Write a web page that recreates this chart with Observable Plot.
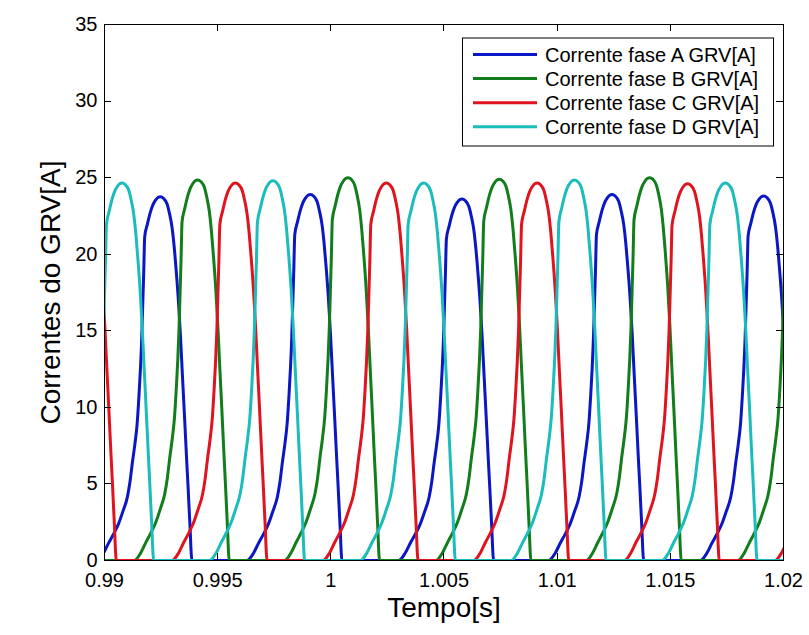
<!DOCTYPE html>
<html><head><meta charset="utf-8">
<script src="https://cdn.jsdelivr.net/npm/d3@7"></script>
<script src="https://cdn.jsdelivr.net/npm/@observablehq/plot@0.6"></script>
<style>
html,body{margin:0;padding:0;background:#fff;}
#chart{width:809px;height:635px;}
</style></head><body><div id="chart"></div>
<script>
// ---- data ----
const seriesNames = ["Corrente fase A GRV[A]", "Corrente fase B GRV[A]", "Corrente fase C GRV[A]", "Corrente fase D GRV[A]"];
const seriesColors = ["#0b16c4", "#127d1c", "#e0141e", "#1bbcbc"];

// shape of one current pulse: offset from its peak (ms) and current as a fraction of that peak
const pulseOffsetMs = [-2.805, -2.518, -2.297, -2.076, -1.856, -1.657, -1.458, -1.347, -1.237, -1.127, -1.029, -0.950, -0.884, -0.826, -0.782, -0.738, -0.694, -0.574, -0.442, -0.331, -0.221, -0.110, 0, 0.133, 0.296, 0.398, 0.517, 0.605, 0.694, 0.795, 0.884, 0.972, 1.074, 1.149, 1.224, 1.303, 1.392];
const pulseFraction = [0, 0.02, 0.047, 0.072, 0.10, 0.135, 0.175, 0.215, 0.27, 0.32, 0.375, 0.45, 0.525, 0.61, 0.70, 0.79, 0.89, 0.925, 0.958, 0.978, 0.99, 0.998, 1, 0.996, 0.98, 0.955, 0.915, 0.865, 0.80, 0.715, 0.62, 0.51, 0.385, 0.29, 0.20, 0.10, 0];

// peak time (s) and peak current (A) of each pulse, per phase
const peakTimesA = [0.99247, 0.99910, 1.00580, 1.01243, 1.01913];
const peakCurrentA = [23.75, 23.9, 23.6, 23.9, 23.8];
const peakTimesB = [0.99412, 1.00076, 1.00745, 1.01409, 1.02079];
const peakCurrentB = [24.85, 25.0, 24.9, 25.0, 24.9];
const peakTimesC = [0.98913, 0.99579, 1.00246, 1.00912, 1.01577, 1.02243];
const peakCurrentC = [24.7, 24.65, 24.65, 24.65, 24.6, 24.65];
const peakTimesD = [0.99078, 0.99745, 1.00411, 1.01077, 1.01744];
const peakCurrentD = [24.65, 24.8, 24.65, 24.85, 24.65];

const xDomain = [0.99, 1.02];
const yDomain = [0, 35];
const xTicks = [0.99, 0.995, 1, 1.005, 1.01, 1.015, 1.02];
const yTicks = [0, 5, 10, 15, 20, 25, 30, 35];

// ---- build table ----
function buildSeries(name, times, peaks) {
  const pts = [];
  times.forEach((tp, k) => {
    pulseOffsetMs.forEach((o, j) => pts.push({serie: name, t: tp + o / 1000, i: pulseFraction[j] * peaks[k]}));
  });
  if (pts[0].t > xDomain[0]) pts.unshift({serie: name, t: xDomain[0] - 0.001, i: 0});
  if (pts[pts.length - 1].t < xDomain[1]) pts.push({serie: name, t: xDomain[1] + 0.001, i: 0});
  return pts;
}
const seriesData = [
  buildSeries(seriesNames[0], peakTimesA, peakCurrentA),
  buildSeries(seriesNames[1], peakTimesB, peakCurrentB),
  buildSeries(seriesNames[2], peakTimesC, peakCurrentC),
  buildSeries(seriesNames[3], peakTimesD, peakCurrentD)
];

const FONT = "'Liberation Sans', Arial, Helvetica, sans-serif";
const LW = 3;

function boxTicks(index, scales, values, dims) {
  const x = scales.x, y = scales.y;
  const L = dims.marginLeft, R = dims.width - dims.marginRight, T = dims.marginTop, B = dims.height - dims.marginBottom;
  const k = 7;
  const g = d3.create("svg:g").attr("stroke", "black").attr("stroke-width", 1).attr("fill", "none");
  for (const t of xTicks) {
    const px = Math.round(x(t)) + 0.5;
    g.append("line").attr("x1", px).attr("x2", px).attr("y1", B).attr("y2", B - k);
    g.append("line").attr("x1", px).attr("x2", px).attr("y1", T).attr("y2", T + k);
  }
  for (const v of yTicks) {
    const py = Math.round(y(v)) + 0.5;
    g.append("line").attr("x1", L).attr("x2", L + k).attr("y1", py).attr("y2", py);
    g.append("line").attr("x1", R).attr("x2", R - k).attr("y1", py).attr("y2", py);
  }
  g.append("rect").attr("x", L + 0.5).attr("y", T + 0.5).attr("width", R - L).attr("height", B - T);
  return g.node();
}

function legendBox(index, scales, values, dims) {
  const R = dims.width - dims.marginRight, T = dims.marginTop;
  const w = 311, h = 108;
  const x0 = R - 10 - w, y0 = T + 13.5;
  const g = d3.create("svg:g");
  g.append("rect").attr("x", x0 + 0.5).attr("y", y0 + 0.5).attr("width", w).attr("height", h)
    .attr("fill", "white").attr("stroke", "black").attr("stroke-width", 1);
  seriesNames.forEach((n, i) => {
    const yy = y0 + 17 + i * 24.1;
    g.append("line").attr("x1", x0 + 11).attr("x2", x0 + 75).attr("y1", yy).attr("y2", yy)
      .attr("stroke", seriesColors[i]).attr("stroke-width", LW);
    g.append("text").attr("x", x0 + 83).attr("y", yy).attr("dy", "0.36em")
      .attr("text-anchor", "start")
      .attr("font-size", 20).attr("font-family", FONT).attr("fill", "black").text(n);
  });
  return g.node();
}

const chart = Plot.plot({
  width: 809,
  height: 635,
  marginLeft: 104,
  marginRight: 26,
  marginTop: 24,
  marginBottom: 75,
  style: {fontFamily: FONT, fontSize: "20px", background: "white", color: "black", overflow: "visible"},
  x: {domain: xDomain},
  y: {domain: yDomain},
  color: {domain: seriesNames, range: seriesColors},
  marks: [
    Plot.axisX({ticks: xTicks, tickSize: 0, tickPadding: 12, tickFormat: d3.format("~g"), label: null, fontSize: 20}),
    Plot.axisY({ticks: yTicks, tickSize: 0, tickPadding: 7, tickFormat: d3.format("~g"), label: null, fontSize: 20}),
    ...seriesData.map((d, k) => Plot.line(d, {x: "t", y: "i", stroke: seriesColors[k], strokeWidth: LW, curve: "monotone-x", clip: true})),
    boxTicks,
    legendBox,
    Plot.text(["Tempo[s]"], {text: d => d, frameAnchor: "bottom", dy: 48, fontSize: 28, lineAnchor: "middle", textAnchor: "middle", fill: "black"}),
    Plot.text(["Correntes do GRV[A]"], {text: d => d, frameAnchor: "left", dx: -53, rotate: -90, fontSize: 28, lineAnchor: "middle", textAnchor: "middle", fill: "black"})
  ]
});
document.getElementById("chart").appendChild(chart);
</script>
</body></html>
